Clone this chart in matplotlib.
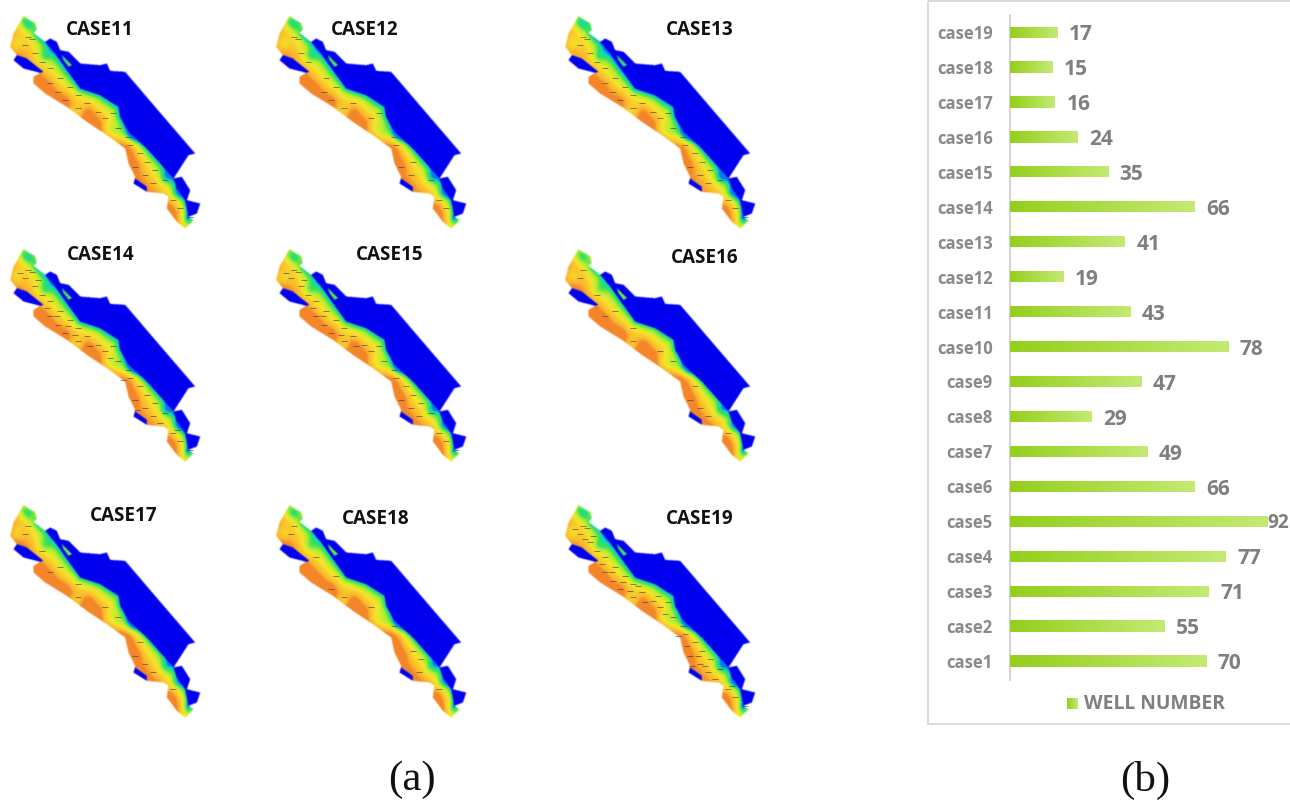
import numpy as np
import matplotlib
matplotlib.use("Agg")
import matplotlib.pyplot as plt
from matplotlib.path import Path
from matplotlib.colors import LinearSegmentedColormap
from matplotlib.patches import Rectangle

# ---- chart data ----
cases = ["case1","case2","case3","case4","case5","case6","case7","case8","case9","case10",
         "case11","case12","case13","case14","case15","case16","case17","case18","case19"]
well_number = [70,55,71,77,92,66,49,29,47,78,43,19,41,66,35,24,16,15,17]

map_titles = ["CASE11","CASE12","CASE13","CASE14","CASE15","CASE16","CASE17","CASE18","CASE19"]
title_x = [99.5,365,700,101,390,705,124,376,700]
title_y = [30,30,30,255,255,258,516,519,519]
map_dx = [0,266,555,0,266,555,0,266,555]
map_dy = [0,0,0,233,233,233,489,489,489]
map_warmth = [0.0,0.0,-0.03,0.0,0.03,0.06,0.05,0.05,0.0]
map_speck_count = [30,20,30,42,36,14,14,12,48]

# map outlines, measured on the reference at 3x
silhouette = [(70,47),(85,58),(105,68),(110,88),(100,98),(135,125),(150,115),(170,125),(180,150),(205,155),
              (240,190),(300,195),(320,190),(330,212),(375,215),(470,326),(585,460),(565,465),(520,535),
              (545,530),(570,570),(560,600),(600,610),(590,640),(565,650),(580,660),(555,685),(530,665),
              (500,625),(505,590),(490,580),(440,575),(400,550),(405,530),(385,490),(375,445),(320,405),
              (260,365),(200,320),(135,280),(100,250),(100,230),(120,218),(70,205),(40,180),(50,165),
              (30,140),(40,100)]
blue_main = [(135,125),(150,115),(170,125),(180,150),(205,155),(240,190),(300,195),(320,190),(330,212),
             (375,215),(470,326),(585,460),(565,465),(520,535),(440,445),(385,395),(360,350),(355,320),
             (300,285),(240,265),(200,210),(165,160)]
blue_west = [(40,180),(50,165),(80,175),(130,215),(120,218),(70,205)]
blue_se = [(520,535),(545,530),(570,570),(560,600),(600,610),(590,640),(565,650),(555,600),(530,565)]
blue_sw = [(400,550),(405,535),(440,560),(440,575)]
notch = [(185,165),(215,195),(205,200),(190,180)]
coast_line = [(30,120),(50,165),(100,235),(135,280),(200,320),(260,365),(320,405),(375,445),(385,490),
              (405,530),(440,575),(500,625),(530,665)]
deep_line = [(110,105),(135,125),(165,160),(200,210),(240,265),(300,285),(355,320),(360,350),
             (385,395),(440,445),(520,530),(555,600),(565,650)]
hot_spots = [(110,240),(150,260),(260,345),(300,375),(395,445),(410,490),(525,625),(85,120),(200,290),(270,320)]
cool_spots = [(70,60),(85,75),(50,130),(325,385),(350,400),(395,410),(495,535),(530,580),(560,665),(230,335),(130,170)]
specks = [(85,110),(95,118),(75,135),(105,160),(125,185),(150,205),(180,235),(210,260),(150,250),(175,275),
          (195,300),(235,285),(260,310),(235,325),(295,335),(315,355),(340,340),(355,385),(385,410),(390,435),
          (420,460),(440,485),(405,500),(465,510),(435,525),(495,540),(460,550),(540,625),(570,650),(520,600),
          (60,120),(115,140),(140,225),(170,250),(225,305),(270,340),(205,280),(330,375),(370,440),(410,530),
          (480,570),(530,590),(90,150),(250,290),(310,320),(430,500),(450,530),(395,470)]

W, H = 1290, 800
fig = plt.figure(figsize=(W/100, H/100), dpi=100, facecolor="white")
bg = fig.add_axes([0, 0, 1, 1])
bg.set_xlim(0, W); bg.set_ylim(H, 0); bg.axis("off")

# ---- map raster (3 samples per pixel, same unit as the outlines) ----
GW, GH = 630, 720
gx, gy = np.meshgrid(np.arange(GW) + .5, np.arange(GH) + .5)
pts = np.column_stack([gx.ravel(), gy.ravel()])

def inside(poly):
    return Path(poly + [poly[0]]).contains_points(pts).reshape(GH, GW)

def dist_to_line(line):
    a = np.array(line, float)
    best = np.full(gx.shape, np.inf)
    for p, q in zip(a[:-1], a[1:]):
        d = q - p
        u = np.clip(((gx - p[0]) * d[0] + (gy - p[1]) * d[1]) / (d @ d), 0, 1)
        best = np.minimum(best, np.hypot(gx - p[0] - u * d[0], gy - p[1] - u * d[1]))
    return best

land = inside(silhouette)
blue = (inside(blue_main) | inside(blue_west) | inside(blue_se) | inside(blue_sw)) & ~inside(notch)
dc, dd = dist_to_line(coast_line), dist_to_line(deep_line)
t_base = (dc / (dc + dd + 1e-6)) ** 1.7
for hx, hy in hot_spots:
    t_base -= 0.12 * np.exp(-((gx - hx) ** 2 + (gy - hy) ** 2) / (2 * 20 ** 2))
for hx, hy in cool_spots:
    t_base += 0.30 * np.exp(-((gx - hx) ** 2 + (gy - hy) ** 2) / (2 * 16 ** 2))

ramp = LinearSegmentedColormap.from_list("heat", [
    (0.00, "#f4862a"), (0.10, "#fbb52c"), (0.42, "#f6e52a"), (0.66, "#b4ee30"),
    (0.84, "#30e060"), (0.95, "#10d8c0"), (1.00, "#0a78f0")])

def blur(a, n=5):
    k = np.ones(n) / n
    out = 1 - a
    for ax_ in (0, 1):
        out = np.apply_along_axis(lambda v: np.convolve(v, k, mode="same"), ax_, out)
    return 1 - out

for i, title in enumerate(map_titles):
    dx, dy = map_dx[i], map_dy[i]
    rgba = ramp(np.clip(t_base - map_warmth[i], 0, 1))
    rgba[blue] = (0.0, 0.0, 0.94, 1.0)
    rgb = np.dstack([blur(rgba[..., c] * land.astype(float) + (1 - land.astype(float))) for c in range(3)])
    extent = (dx, dx + GW / 3, dy + GH / 3, dy)
    bg.imshow(rgb[::2, ::2], extent=extent, interpolation="bilinear", aspect="auto", zorder=1)
    n = map_speck_count[i]
    idx = np.arange(n) if n >= 30 else np.linspace(0, 29, n).astype(int)
    sp = np.array(specks)[idx] / 3
    bg.scatter(sp[:, 0] + dx, sp[:, 1] + dy, marker="_", s=14, linewidths=0.7, color="#3a3a3a", alpha=.6, zorder=2)
    bg.text(title_x[i], title_y[i], title, ha="center", va="center", fontsize=13.6, fontweight="bold",
            family="Open Sans", color="#111111", zorder=3)
bg.set_xlim(0, W); bg.set_ylim(H, 0)

# panel frame and captions
bg.add_patch(Rectangle((927.5, 1), 400, 723, fill=False, ec="#d9d9d9", lw=1.4, zorder=1))
bg.text(412, 780, "(a)", ha="center", va="center", fontsize=31, family="Liberation Serif", color="#111111")
bg.text(1145, 780, "(b)", ha="center", va="center", fontsize=31, family="Liberation Serif", color="#111111")

# ---- bar chart ----
ax = fig.add_axes([1010 / W, (H - 680) / H, 280 / W, 665 / H], facecolor="none")
ypos = np.arange(len(cases))
bars = ax.barh(ypos, well_number, height=0.32, color="#a4d83c")
ax.set_xlim(0, 100)
ax.set_ylim(-0.544, 18.49)
grad = LinearSegmentedColormap.from_list("bar", ["#94cf1c", "#c4ea74"])
g = np.linspace(0, 1, 256)[None, :]
for b in bars:
    im = ax.imshow(g, extent=(0, b.get_width(), b.get_y(), b.get_y() + b.get_height()),
                   cmap=grad, aspect="auto", zorder=3)
    im.set_clip_path(b)
    b.set_visible(False)
ax.set_xlim(0, 100)
ax.set_ylim(-0.544, 18.49)
top_value = max(well_number)
for y, v in zip(ypos, well_number):
    if v == top_value:   # the reference squeezes this label against the picture's edge
        ax.annotate(str(v), (100, y), xytext=(-0.4, -1.5), textcoords="offset points", va="center", ha="right",
                    fontsize=13.8, fontweight="bold", family="Open Sans", color="#7f7f7f", annotation_clip=False)
    else:
        ax.annotate(str(v), (v, y), xytext=(11.5 * 0.72, -2), textcoords="offset points", va="center", ha="left",
                    fontsize=15, fontweight="bold", family="Open Sans", color="#7f7f7f", annotation_clip=False)
ax.set_yticks(ypos, cases)
ax.tick_params(axis="y", length=0, pad=12.5)
for lab in ax.get_yticklabels():
    lab.set(fontsize=12, fontweight="bold", family="Open Sans", color="#8a8a8a")
ax.xaxis.set_visible(False)
for s in ("top", "right", "bottom"):
    ax.spines[s].set_visible(False)
ax.spines["left"].set(color="#d4d4d4", lw=1.4)

# legend
leg = fig.add_axes([1067 / W, (H - 709) / H, 11 / W, 11 / H])
leg.imshow(g, cmap=grad, aspect="auto"); leg.axis("off")
bg.text(1084, 704, "WELL NUMBER", ha="left", va="center", fontsize=13.9, fontweight="bold",
        family="Open Sans", color="#7f7f7f")

fig.savefig("out.png", dpi=100)
